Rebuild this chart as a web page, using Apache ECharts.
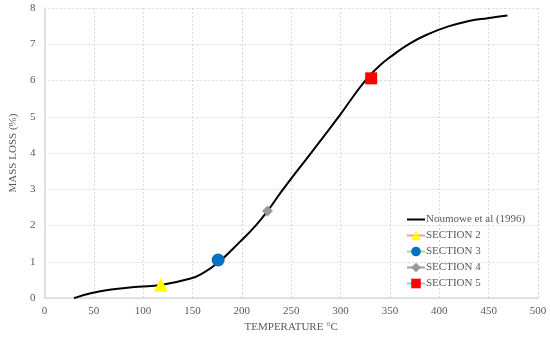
<!DOCTYPE html>
<html>
<head>
<meta charset="utf-8">
<script src="https://cdn.jsdelivr.net/npm/echarts@6/dist/echarts.min.js"></script>
<style>
  html, body { margin: 0; padding: 0; background: #fff; }
  #chart { width: 550px; height: 338px; }
</style>
</head>
<body>
<div id="chart"></div>
<script>
// curve
const tempC = [30, 48, 72, 95, 118, 148, 160, 176, 198, 214, 226, 241, 270, 298, 325, 340, 352, 370, 388, 410, 430, 449, 469];
const massLoss = [0, 0.14, 0.25, 0.31, 0.36, 0.54, 0.68, 0.98, 1.55, 2.0, 2.4, 2.97, 4.0, 5.0, 6.0, 6.42, 6.68, 7.02, 7.27, 7.50, 7.64, 7.72, 7.79];

const sectionNames = ['SECTION 2', 'SECTION 3', 'SECTION 4', 'SECTION 5'];
const sectionX = [118, 176, 226, 331];
const sectionY = [0.37, 1.05, 2.40, 6.06];
const sectionSymbols = ['triangle', 'circle', 'diamond', 'rect'];
const sectionColors = ['#ffff00', '#0070c0', '#999999', '#ff0000'];
const sectionLegendLine = ['#ff9999', '#99dd99', '#b38fd1', '#7fd0e8'];
const sectionSizes = [14, 13, 11, 12];

const xTicks = [0, 50, 100, 150, 200, 250, 300, 350, 400, 450, 500];
const yTicks = [0, 1, 2, 3, 4, 5, 6, 7, 8];

const font = 'Liberation Serif';
const textColor = '#595959';

const chart = echarts.init(document.getElementById('chart'));

const series = [{
  name: 'Noumowe et al (1996)',
  type: 'line',
  data: tempC.map((t, i) => [t, massLoss[i]]),
  smooth: 0.5,
  symbol: 'none',
  lineStyle: { color: '#000', width: 2 },
  itemStyle: { color: '#000' },
  z: 2
}];
sectionNames.forEach((n, i) => {
  series.push({
    name: n,
    type: 'line',
    data: [[sectionX[i], sectionY[i]]],
    symbol: sectionSymbols[i],
    symbolSize: sectionSizes[i],
    lineStyle: { color: sectionLegendLine[i], width: 1.5 },
    itemStyle: { color: sectionColors[i], opacity: 1 },
    z: 3
  });
});

chart.setOption({
  animation: false,
  grid: { left: 34, right: 12, top: 8, bottom: 37 },
  xAxis: {
    type: 'value',
    min: 0, max: 500, interval: 50,
    name: 'TEMPERATURE °C',
    nameLocation: 'middle',
    nameGap: 21,
    nameTextStyle: { fontFamily: font, fontSize: 11, color: textColor },
    axisLine: { lineStyle: { color: '#d9d9d9', width: 1.5 } },
    axisTick: { show: false },
    axisLabel: { fontFamily: font, fontSize: 11, color: textColor, margin: 8,
      formatter: v => xTicks.includes(v) ? String(v) : '' },
    splitLine: { lineStyle: { color: '#d9d9d9', type: [2, 2] } }
  },
  yAxis: {
    type: 'value',
    min: 0, max: 8, interval: 1,
    name: 'MASS LOSS (%)',
    nameLocation: 'middle',
    nameGap: 22,
    nameTextStyle: { fontFamily: font, fontSize: 11, color: textColor },
    axisLine: { show: true, lineStyle: { color: '#d9d9d9', width: 1.5 } },
    axisTick: { show: false },
    axisLabel: { fontFamily: font, fontSize: 11, color: textColor, margin: 9,
      formatter: v => yTicks.includes(v) ? String(v) : '' },
    splitLine: { lineStyle: { color: '#d9d9d9', type: [2, 2] } }
  },
  legend: {
    orient: 'vertical',
    left: 401,
    top: 209,
    itemWidth: 18,
    itemHeight: 12,
    itemGap: 5,
    textStyle: { fontFamily: font, fontSize: 11, color: textColor, padding: [0, 0, 0, -4] },
    data: [{ name: 'Noumowe et al (1996)', itemStyle: { opacity: 0 } }].concat(sectionNames)
  },
  series: series
});
</script>
</body>
</html>
